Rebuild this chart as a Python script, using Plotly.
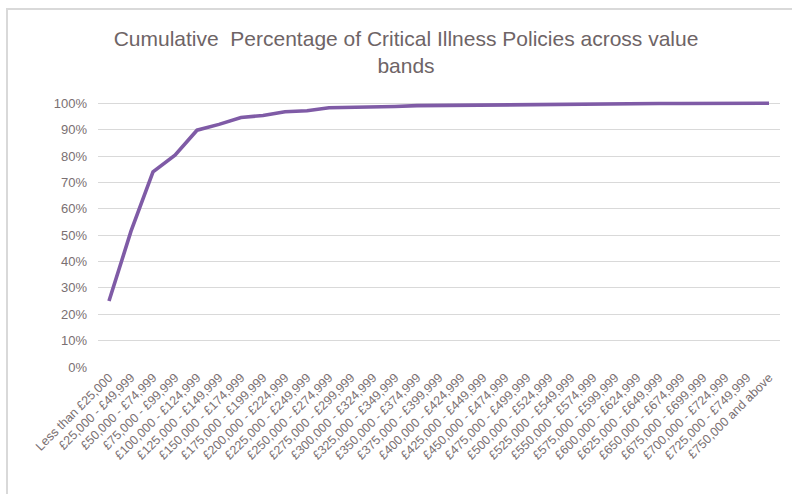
import plotly.graph_objects as go

# Value bands (policy sums assured)
bands = [
    "Less than £25,000",
    "£25,000 - £49,999", "£50,000 - £74,999", "£75,000 - £99,999",
    "£100,000 - £124,999", "£125,000 - £149,999", "£150,000 - £174,999",
    "£175,000 - £199,999", "£200,000 - £224,999", "£225,000 - £249,999",
    "£250,000 - £274,999", "£275,000 - £299,999", "£300,000 - £324,999",
    "£325,000 - £349,999", "£350,000 - £374,999", "£375,000 - £399,999",
    "£400,000 - £424,999", "£425,000 - £449,999", "£450,000 - £474,999",
    "£475,000 - £499,999", "£500,000 - £524,999", "£525,000 - £549,999",
    "£550,000 - £574,999", "£575,000 - £599,999", "£600,000 - £624,999",
    "£625,000 - £649,999", "£650,000 - £674,999", "£675,000 - £699,999",
    "£700,000 - £724,999", "£725,000 - £749,999", "£750,000 and above",
]

# Cumulative share of policies up to each band
cumulative_pct = [
    0.250, 0.515, 0.740, 0.803, 0.898, 0.920, 0.946, 0.954, 0.968, 0.972,
    0.983, 0.984, 0.987, 0.988, 0.991, 0.992, 0.993, 0.993, 0.995, 0.996,
    0.996, 0.997, 0.998, 0.998, 0.998, 0.999, 0.999, 0.999, 0.999, 1.000,
    1.000,
]

y_ticks = [i / 10 for i in range(11)]
y_tick_text = [f"{i * 10}%" for i in range(11)]

W, H = 792, 494
ML, MR, MT, MB = 98, 12, 101, 127
PW, PH = W - ML - MR, H - MT - MB

fig = go.Figure(
    go.Scatter(
        x=bands,
        y=cumulative_pct,
        mode="lines",
        line=dict(color="#7f5ba6", width=3.6),
        hoverinfo="x+y",
    )
)

# light frame around the chart
fig.add_shape(
    type="rect", xref="paper", yref="paper",
    x0=(7 - ML) / PW, x1=(W + 10 - ML) / PW,
    y0=-(H + 10 - MT - PH) / PH, y1=(MT + PH - 9) / PH,
    line=dict(color="#d9d9d9", width=2), fillcolor="rgba(0,0,0,0)",
    layer="above",
)

fig.update_layout(
    width=W, height=H,
    margin=dict(l=ML, r=MR, t=MT, b=MB),
    paper_bgcolor="white", plot_bgcolor="white",
    showlegend=False,
    font=dict(family="Liberation Sans, Arial, sans-serif", color="#7a7072"),
    title=dict(
        text="Cumulative  Percentage of Critical Illness Policies across value<br>bands",
        x=406 / W, xanchor="center", xref="container",
        y=1 - 46 / H, yanchor="top", yref="container",
        font=dict(size=21, color="#6e6466"),
    ),
    xaxis=dict(
        type="category",
        range=[-0.5, len(bands) - 0.5],
        tickangle=-45,
        tickfont=dict(size=12.5, color="#7a7072"),
        showgrid=False, zeroline=False, showline=False,
        ticks="",
    ),
    yaxis=dict(
        range=[0, 1.0087],
        tickvals=y_ticks, ticktext=y_tick_text,
        tickfont=dict(size=13, color="#7a7072"),
        showgrid=True, gridcolor="#d9d9d9", gridwidth=1,
        zeroline=False, showline=False,
        ticks="", ticklabelstandoff=10,
    ),
)

fig.write_html("out.html")
